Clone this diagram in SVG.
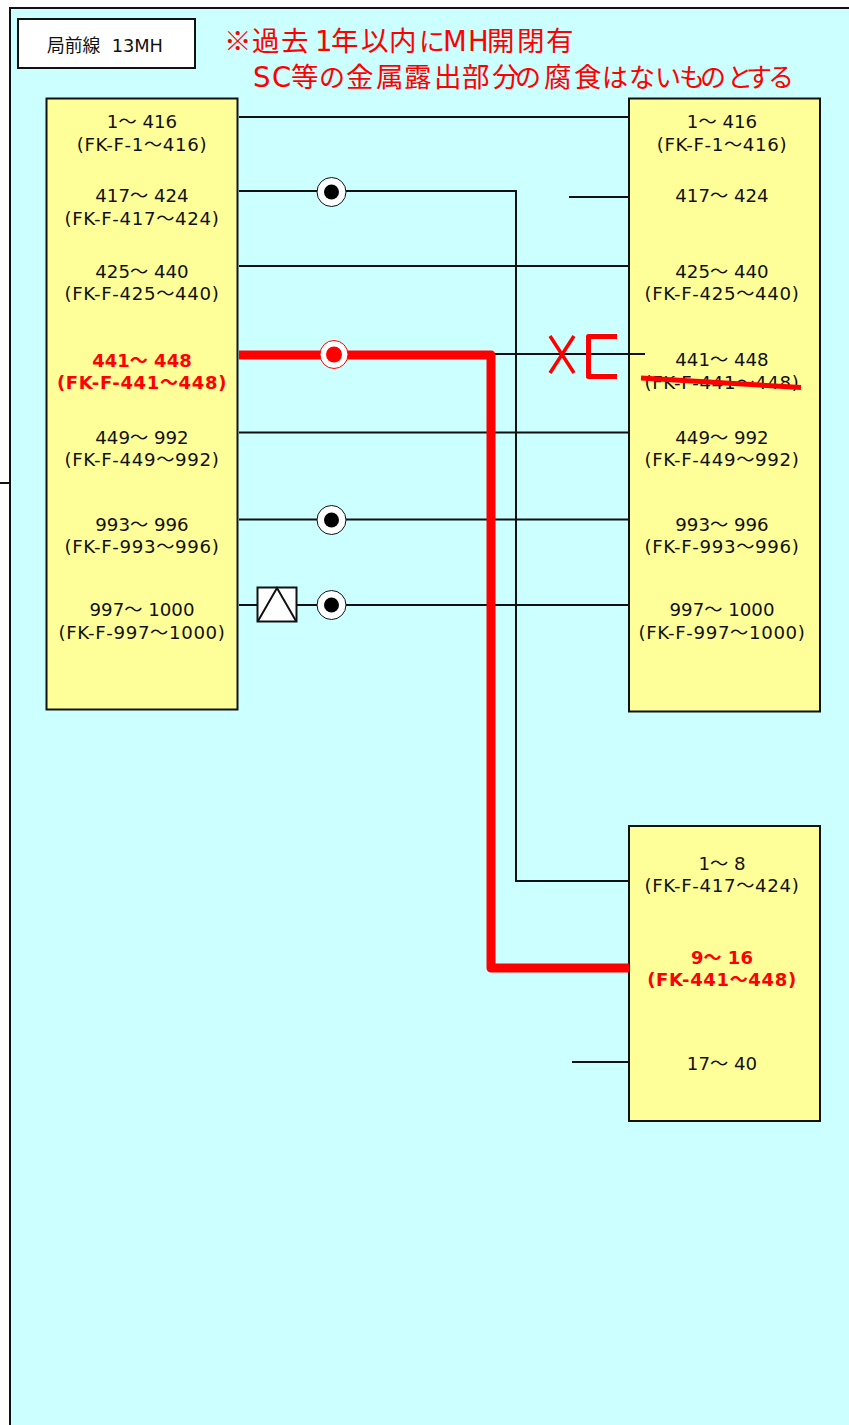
<svg xmlns="http://www.w3.org/2000/svg" width="849" height="1425" viewBox="0 0 849 1425">
<style>
text{font-family:"DejaVu Sans","Noto Sans CJK JP",sans-serif;font-size:18.200px;fill:#111;text-anchor:middle}
.p{letter-spacing:.65px}
.r{fill:#f00;font-weight:bold;font-size:18px}
.n{font-size:27.500px;fill:#f00;text-anchor:start}
.k{font-size:26px}
.b{fill:#ffff99;stroke:#111;stroke-width:2}
.l{fill:none;stroke:#111;stroke-width:2}
.o{fill:none;stroke:#f00;stroke-linejoin:round;stroke-linecap:butt}
.c{fill:#fff;stroke:#111;stroke-width:1}
</style>
<rect width="849" height="1425" fill="#fff"/>
<rect x="10" y="8" width="839" height="1417" fill="#ccffff"/>
<path class="l" d="M849 8H10V1425M0 483H10"/>
<g id="title"><rect x="18" y="19" width="177" height="49" fill="#fff" stroke="#111" stroke-width="2"/><text x="105" y="52" style="font-size:17.800px" xml:space="preserve">局前線  13MH</text></g>
<g id="note">
<text class="n" y="51" x="224 252 281 315 331 361 389 419 443 468 487 517 546"><tspan style="font-family:'Noto Sans CJK JP',sans-serif">※</tspan>過去1年以内<tspan class="k">に</tspan>MH開閉有</text>
<text class="n" y="87" x="253 272 291 319 346 376 404 434 462 492 515 544 574 602 629 655 679 700 727 746 768">SC等<tspan class="k">の</tspan>金属露出部分<tspan class="k">の</tspan>腐食<tspan class="k">はないものとする</tspan></text>
</g>
<g id="panel-left">
<rect class="b" x="46.500" y="98.500" width="191" height="611"/>
<text x="142" y="128">1～ 416</text><text class="p" x="142" y="151">(FK-F-1～416)</text>
<text x="142" y="202">417～ 424</text><text class="p" x="142" y="225">(FK-F-417～424)</text>
<text x="142" y="278">425～ 440</text><text class="p" x="142" y="300">(FK-F-425～440)</text>
<text class="r" x="142" y="367">441～ 448</text><text class="r p" x="142" y="389">(FK-F-441～448)</text>
<text x="142" y="444">449～ 992</text><text class="p" x="142" y="466">(FK-F-449～992)</text>
<text x="142" y="531">993～ 996</text><text class="p" x="142" y="553">(FK-F-993～996)</text>
<text x="142" y="616">997～ 1000</text><text class="p" x="142" y="639">(FK-F-997～1000)</text>
</g>
<g id="panel-right">
<rect class="b" x="629" y="98.500" width="191" height="613"/>
<text x="722" y="128">1～ 416</text><text class="p" x="722" y="151">(FK-F-1～416)</text>
<text x="722" y="202">417～ 424</text>
<text x="722" y="278">425～ 440</text><text class="p" x="722" y="300">(FK-F-425～440)</text>
<text x="722" y="366">441～ 448</text><text class="p" x="722" y="389">(FK-F-441～448)</text>
<text x="722" y="444">449～ 992</text><text class="p" x="722" y="466">(FK-F-449～992)</text>
<text x="722" y="531">993～ 996</text><text class="p" x="722" y="553">(FK-F-993～996)</text>
<text x="722" y="616">997～ 1000</text><text class="p" x="722" y="639">(FK-F-997～1000)</text>
</g>
<g id="panel-bottom">
<rect class="b" x="629" y="826" width="191" height="295"/>
<text x="722" y="870">1～ 8</text><text class="p" x="722" y="892">(FK-F-417～424)</text>
<text class="r" x="722" y="964">9～ 16</text><text class="r p" x="722" y="986">(FK-441～448)</text>
<text x="722" y="1070">17～ 40</text>
</g>
<g id="connectors">
<path class="l" d="M239 117H629M239 191H516V881H629M569 197H629M239 266H629M490 354H645M239 432.500H629M239 519.500H629M239 605H629M572 1062H629"/>
<path class="o" d="M239 355H491V968H629" stroke-width="9"/>
<path class="o" d="M641 378L801 387.500" stroke-width="5"/>
<path class="o" d="M550 336L574 373M574 336L550 373" stroke-width="3.500"/>
<path class="o" d="M617 336.500H588.500V376.500H617" stroke-width="5"/>
</g>
<g id="markers">
<circle class="c" cx="331.500" cy="192" r="14.500"/><circle cx="331.500" cy="192" r="7.500" fill="#000"/>
<circle cx="334" cy="354.500" r="14" fill="#fff" stroke="#f00"/><circle cx="334" cy="354.500" r="8" fill="#f00"/>
<circle class="c" cx="331.500" cy="520" r="14.500"/><circle cx="331.500" cy="520" r="7.500" fill="#000"/>
<circle class="c" cx="331.500" cy="605" r="14.500"/><circle cx="331.500" cy="605" r="7.500" fill="#000"/>
<rect x="257.500" y="587.500" width="39" height="34" fill="#fff" stroke="#111" stroke-width="2"/>
<path d="M258 621L277 588L296 621" fill="none" stroke="#111" stroke-width="2"/>
</g>
</svg>
